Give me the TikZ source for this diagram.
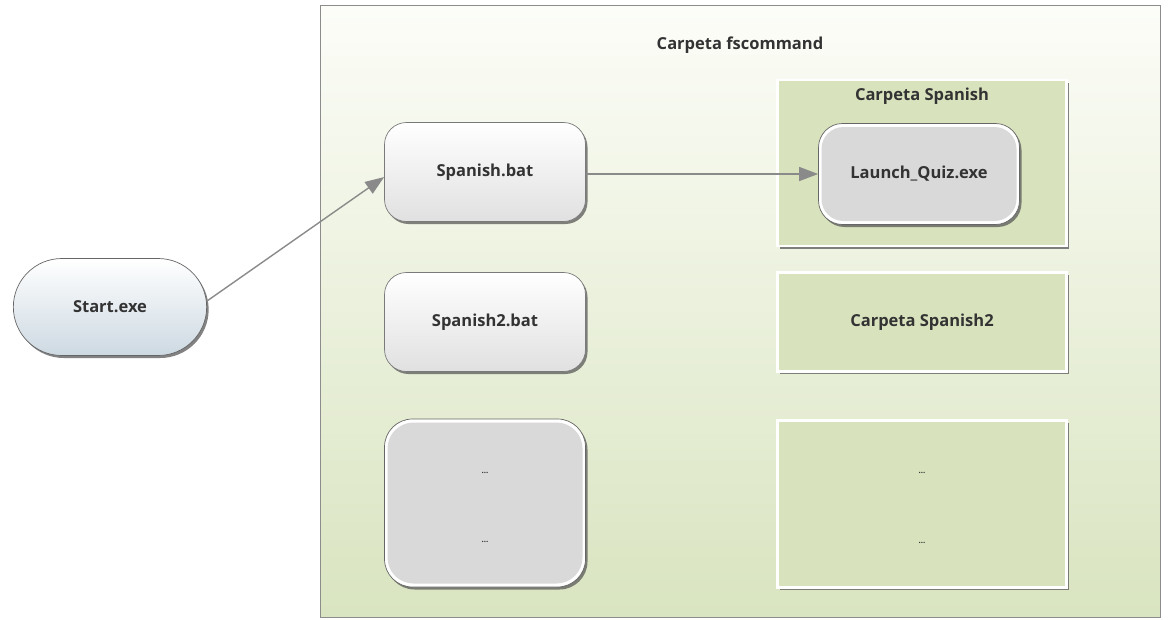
\documentclass[tikz,border=0pt]{standalone}
\usepackage{fontspec}
\setmainfont{Open Sans}
\usetikzlibrary{arrows.meta,shadows,shapes.misc}
\definecolor{txt}{HTML}{333333}
\definecolor{leaf}{HTML}{D8E3BE}
\definecolor{leaftop}{HTML}{FCFDF8}
\definecolor{leafbot}{HTML}{D9E4C0}
\definecolor{edge}{HTML}{7A7A7A}
\definecolor{link}{HTML}{8A8A8A}
\definecolor{core}{HTML}{D9D9D9}
\tikzset{
  lbl/.style={font=\fontsize{16.5}{19}\selectfont\bfseries, text=txt},
  soft shadow/.style={drop shadow={shadow xshift=2pt, shadow yshift=-2.5pt, fill=black!65, opacity=0.75}},
  inner rim/.style={path picture={\fill[core, rounded corners=#1]
      ([shift={(3pt,3.5pt)}]path picture bounding box.south west) rectangle
      ([shift={(-3pt,-3.5pt)}]path picture bounding box.north east);}},
  filebox/.style={lbl, rectangle, rounded corners=22pt, draw=edge, line width=0.7pt,
    top color=white, bottom color=black!12, soft shadow,
    minimum width=201pt, minimum height=99pt},
  graybox/.style={lbl, rectangle, rounded corners=28pt, draw=black!60, line width=0.7pt,
    fill=white, inner rim=26pt, soft shadow, minimum width=201pt},
  folderbox/.style={lbl, rectangle, fill=leaf, draw=white, line width=2.5pt, soft shadow,
    minimum width=289pt},
  dots/.style={font=\fontsize{8}{9}\selectfont\bfseries, text=txt},
  link arrow/.style={draw=link, line width=1.4pt, -{Triangle[length=19pt,width=14pt]}}
}
\begin{document}
\begin{tikzpicture}[x=1pt,y=-1pt]
\useasboundingbox (0,0) rectangle (1168,619);
\fill[white] (0,0) rectangle (1168,619);

% outer folder
\node[rectangle, draw=black!45, line width=1pt, top color=leaftop, bottom color=leafbot,
      minimum width=840pt, minimum height=612pt, anchor=north west, inner sep=0pt]
      (fs) at (320,5) {};
\node[lbl] (fstitle) at (740,45) {Carpeta fscommand};

% launcher
\node[lbl, rounded rectangle, draw=black!60, line width=0.7pt, top color=white,
      bottom color={rgb,255:red,205;green,217;blue,226}, soft shadow,
      minimum width=200pt, minimum height=97pt] (start) at (110,307) {Start.exe};

% batch files
\node[filebox] (bat1) at (485,172) {Spanish.bat};
\node[filebox] (bat2) at (485,322) {Spanish2.bat};
\node[graybox, minimum height=168pt] (batn) at (485,503) {};
\node[dots] (batd1) at (485,473) {...};
\node[dots] (batd2) at (485,542) {...};

% sub folders
\node[folderbox, minimum height=166pt] (sp1) at (922,163) {};
\node[lbl] (sp1title) at (922,96) {Carpeta Spanish};
\node[lbl, rectangle, rounded corners=24pt, draw=black!60, line width=0.7pt,
      fill=white, inner rim=22pt, soft shadow, minimum width=201pt, minimum height=101pt]
      (quiz) at (919,174) {Launch\_Quiz.exe};
\node[folderbox, minimum height=99pt] (sp2) at (922,322) {Carpeta Spanish2};
\node[folderbox, minimum height=167pt] (spn) at (922,504) {};
\node[dots] (spd1) at (922,473) {...};
\node[dots] (spd2) at (922,543) {...};

% calls
\draw[link arrow] (start.east) ++(0,-6) coordinate (s0) -- (bat1.west |- 0,177) coordinate (s1);
\draw[link arrow] (bat1.east |- quiz.west) -- (quiz.west);
\end{tikzpicture}
\end{document}
